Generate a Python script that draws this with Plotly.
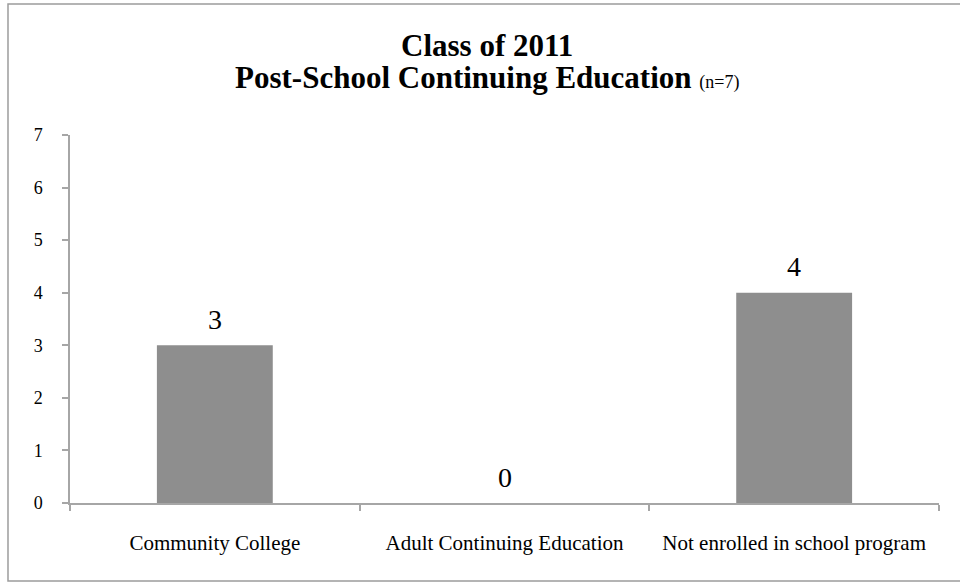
import plotly.graph_objects as go

categories = ["Community College", "Adult Continuing Education", "Not enrolled in school program"]
counts = [3, 0, 4]
y_ticks = [0, 1, 2, 3, 4, 5, 6, 7]

title_line1 = "Class of 2011"
title_line2 = "Post-School Continuing Education"
title_note = "(n=7)"

SERIF = "Liberation Serif"
AXIS_GRAY = "#a6a6a6"

fig = go.Figure(
    go.Bar(
        x=categories,
        y=counts,
        marker=dict(color="#8e8e8e", line=dict(width=0)),
        hoverinfo="x+y",
    )
)

# value labels above each bar
for cat, val in zip(categories, counts):
    fig.add_annotation(
        x=cat, y=val, xref="x", yref="y",
        text=str(val), showarrow=False,
        yanchor="middle", yshift=26,
        font=dict(family=SERIF, size=28, color="#000000"),
    )

# two-line title
fig.add_annotation(
    x=0.4799, y=1, xref="paper", yref="paper",
    text=f"<b>{title_line1}</b>", showarrow=False,
    yanchor="middle", yshift=90,
    font=dict(family=SERIF, size=31, color="#000000"),
)
fig.add_annotation(
    x=0.4799, y=1, xref="paper", yref="paper",
    text=f"<b>{title_line2}</b> <span style='font-size:18px'>{title_note}</span>",
    showarrow=False,
    yanchor="middle", yshift=58,
    font=dict(family=SERIF, size=31, color="#000000"),
)

# chart-area frame
fig.add_shape(
    type="rect", xref="paper", yref="paper",
    x0=-0.07135, x1=1.0265, y0=-0.212, y1=1.356,
    line=dict(color="#9c9c9c", width=1.5),
    fillcolor="rgba(0,0,0,0)", layer="below",
)

fig.update_layout(
    width=960, height=582,
    margin=dict(l=70, r=21, t=135, b=79, pad=0),
    paper_bgcolor="white", plot_bgcolor="white",
    bargap=0.6,
    showlegend=False,
    font=dict(family=SERIF, color="#000000"),
)

fig.update_xaxes(
    type="category",
    showline=True, linecolor=AXIS_GRAY, linewidth=1.5,
    ticks="outside", tickson="boundaries", ticklen=6, tickcolor=AXIS_GRAY, tickwidth=1.5,
    tickfont=dict(family=SERIF, size=21, color="#000000"),
    ticklabelstandoff=20,
    showgrid=False, zeroline=False,
)
fig.update_yaxes(
    range=[0, 7], tickvals=y_ticks,
    showline=True, linecolor=AXIS_GRAY, linewidth=1.5,
    ticks="outside", ticklen=6, tickcolor=AXIS_GRAY, tickwidth=1.5,
    tickfont=dict(family=SERIF, size=18, color="#000000"),
    ticklabelstandoff=16,
    showgrid=False, zeroline=False,
)

fig.write_html("out.html")
